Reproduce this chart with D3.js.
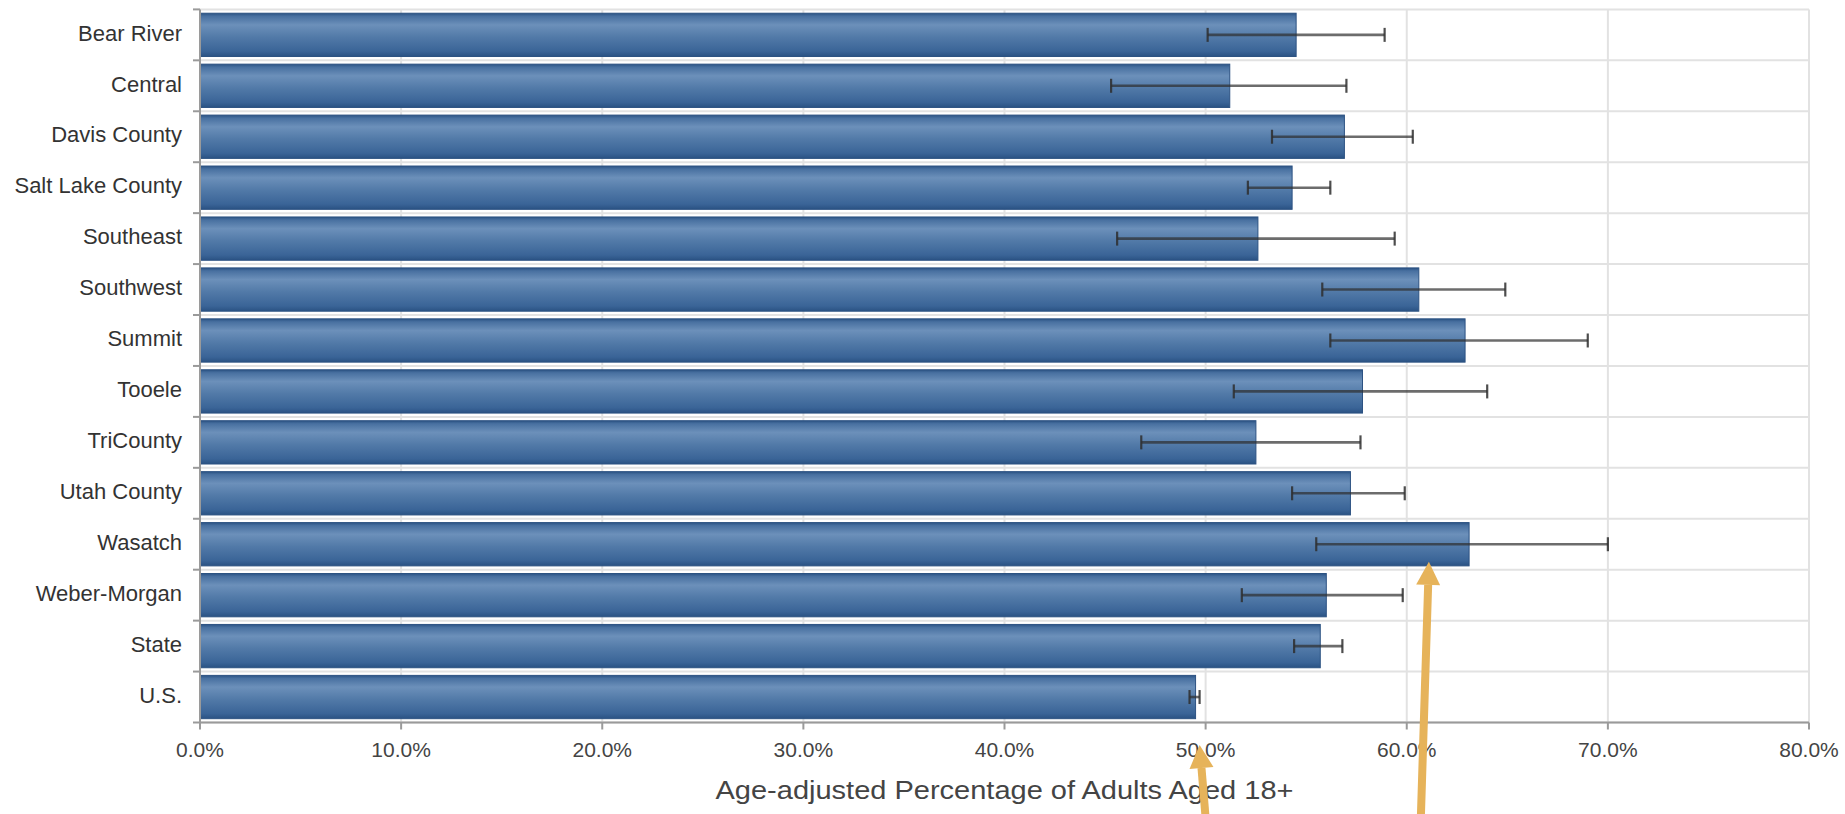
<!DOCTYPE html>
<html>
<head>
<meta charset="utf-8">
<script src="https://cdn.jsdelivr.net/npm/d3@7"></script>
<style>
  html, body { margin: 0; padding: 0; background: #fff; }
  svg { display: block; font-family: "Liberation Sans", Arial, sans-serif; }
</style>
</head>
<body>
<svg id="chart" width="1845" height="814"></svg>
<script>
// Health district estimates with 95% confidence intervals (percent)
const categories = ["Bear River", "Central", "Davis County", "Salt Lake County", "Southeast",
  "Southwest", "Summit", "Tooele", "TriCounty", "Utah County", "Wasatch",
  "Weber-Morgan", "State", "U.S."];
const values = [54.5, 51.2, 56.9, 54.3, 52.6, 60.6, 62.9, 57.8, 52.5, 57.2, 63.1, 56.0, 55.7, 49.5];
const lower  = [50.1, 45.3, 53.3, 52.1, 45.6, 55.8, 56.2, 51.4, 46.8, 54.3, 55.5, 51.8, 54.4, 49.2];
const upper  = [58.9, 57.0, 60.3, 56.2, 59.4, 64.9, 69.0, 64.0, 57.7, 59.9, 70.0, 59.8, 56.8, 49.7];
const xTicks = [0, 10, 20, 30, 40, 50, 60, 70, 80];
const axisTitle = "Age-adjusted Percentage of Adults Aged 18+";

// Highlight arrows: tip and tail given as percent positions
const arrowTipValues  = [49.7, 61.1];
const arrowTailValues = [50.0, 60.7];

const svg = d3.select("#chart");
const margin = { left: 200, right: 36, top: 9.4, bottom: 91.5 };
const W = 1845, H = 814;

const x = d3.scaleLinear().domain([0, 80]).range([margin.left, W - margin.right]);
const y = d3.scaleBand().domain(categories)
  .range([margin.top, H - margin.bottom])
  .paddingInner(0.15).paddingOuter(0.075);

const defs = svg.append("defs");
const grad = defs.append("linearGradient").attr("id", "barGrad")
  .attr("x1", 0).attr("y1", 0).attr("x2", 0).attr("y2", 1);
[["0%", "#2b5384"], ["7%", "#4870a0"], ["27%", "#6c90ba"], ["55%", "#527aa8"],
 ["88%", "#3a6497"], ["100%", "#2a5283"]]
  .forEach(([o, c]) => grad.append("stop").attr("offset", o).attr("stop-color", c));

// Grid
const grid = svg.append("g");
grid.selectAll("line.v").data(xTicks).join("line")
  .attr("x1", d => x(d)).attr("x2", d => x(d))
  .attr("y1", margin.top).attr("y2", H - margin.bottom)
  .attr("stroke", "#e2e2e2").attr("stroke-width", 2);
const bounds = d3.range(categories.length + 1).map(i => y.range()[0] + i * y.step());
grid.selectAll("line.h").data(bounds).join("line")
  .attr("x1", margin.left).attr("x2", x(80))
  .attr("y1", d => d).attr("y2", d => d)
  .attr("stroke", "#e2e2e2").attr("stroke-width", 2);

// Bars
svg.append("g").selectAll("rect").data(categories).join("rect")
  .attr("x", x(0))
  .attr("y", d => y(d))
  .attr("width", (d, i) => x(values[i]) - x(0))
  .attr("height", y.bandwidth())
  .attr("fill", "url(#barGrad)")
  .attr("stroke", "#2c5282").attr("stroke-width", 1);

// Error bars
const eb = svg.append("g").attr("stroke", "#2e2e2e").attr("stroke-opacity", 0.7);
categories.forEach((c, i) => {
  const cy = y(c) + y.bandwidth() / 2;
  eb.append("line").attr("x1", x(lower[i])).attr("x2", x(upper[i]))
    .attr("y1", cy).attr("y2", cy).attr("stroke-width", 2.6);
  [lower[i], upper[i]].forEach(v => {
    eb.append("line").attr("x1", x(v)).attr("x2", x(v))
      .attr("y1", cy - 7).attr("y2", cy + 7).attr("stroke-width", 2.2)
      .attr("stroke-opacity", 0.85);
  });
});

// Axes
const axisG = svg.append("g");
axisG.append("line").attr("x1", x(0)).attr("x2", x(80))
  .attr("y1", H - margin.bottom).attr("y2", H - margin.bottom)
  .attr("stroke", "#9a9a9a").attr("stroke-width", 2);
axisG.append("line").attr("x1", x(0)).attr("x2", x(0))
  .attr("y1", margin.top).attr("y2", H - margin.bottom)
  .attr("stroke", "#9a9a9a").attr("stroke-width", 2);
axisG.selectAll("line.xt").data(xTicks).join("line")
  .attr("x1", d => x(d)).attr("x2", d => x(d))
  .attr("y1", H - margin.bottom).attr("y2", H - margin.bottom + 7)
  .attr("stroke", "#9a9a9a").attr("stroke-width", 2);
axisG.selectAll("line.yt").data(bounds).join("line")
  .attr("x1", x(0) - 7).attr("x2", x(0))
  .attr("y1", d => d).attr("y2", d => d)
  .attr("stroke", "#9a9a9a").attr("stroke-width", 2);

axisG.selectAll("text.xl").data(xTicks).join("text")
  .attr("x", d => x(d)).attr("y", H - margin.bottom + 34)
  .attr("text-anchor", "middle").attr("font-size", 21).attr("fill", "#444")
  .text(d => d3.format(".1f")(d) + "%");

axisG.selectAll("text.yl").data(categories).join("text")
  .attr("x", x(0) - 18).attr("y", d => y(d) + y.bandwidth() / 2 - 2)
  .attr("dy", "0.35em")
  .attr("text-anchor", "end").attr("font-size", 22).attr("fill", "#333")
  .text(d => d);

svg.append("text")
  .attr("x", (x(0) + x(80)) / 2).attr("y", 799)
  .attr("text-anchor", "middle").attr("font-size", 25).attr("fill", "#444")
  .attr("textLength", 578).attr("lengthAdjust", "spacingAndGlyphs")
  .text(axisTitle);

// Highlight arrows
const arrowTipY = [745, y("Wasatch") + y.bandwidth() - 4];
const arrowColor = "#e6b35a";
const ag = svg.append("g");
arrowTipValues.forEach((v, i) => {
  const tx = x(v), ty = arrowTipY[i];
  const bx = x(arrowTailValues[i]), by = H + 4;
  const ang = Math.atan2(by - ty, bx - tx);
  const head = 23, half = 12;
  const hx = tx + head * Math.cos(ang), hy = ty + head * Math.sin(ang);
  ag.append("line").attr("x1", hx).attr("y1", hy).attr("x2", bx).attr("y2", by)
    .attr("stroke", arrowColor).attr("stroke-width", 8);
  const px = -Math.sin(ang), py = Math.cos(ang);
  ag.append("polygon")
    .attr("points", [[tx, ty], [hx + px * half, hy + py * half], [hx - px * half, hy - py * half]]
      .map(p => p.join(",")).join(" "))
    .attr("fill", arrowColor);
});
</script>
</body>
</html>
